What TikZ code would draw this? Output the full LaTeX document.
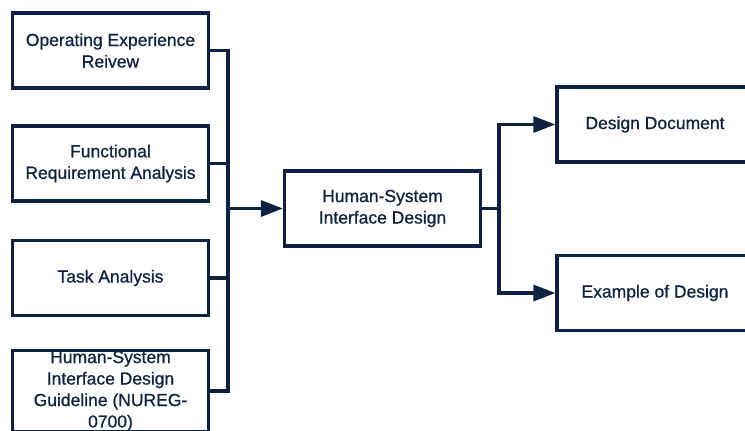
\documentclass[tikz,border=0pt]{standalone}
\usepackage{fontspec}
\setmainfont{Liberation Sans}[FakeBold=0.7]
\usetikzlibrary{arrows.meta}
\definecolor{navy}{RGB}{12,34,64}
\begin{document}
\begin{tikzpicture}[x=1pt,y=-1pt,
  box/.style={draw=navy, line width=3.2pt, minimum width=196pt, minimum height=75pt,
    align=center, text=navy, inner sep=0pt,
    font=\fontsize{17.5}{21.5}\selectfont},
  link/.style={draw=navy, line width=3.2pt},
  arr/.style={link, -{Triangle[length=22pt,width=16pt]}}]
\useasboundingbox (0,0) rectangle (745,431);
\clip (0,0) rectangle (745,431);

% input boxes
\node[box] (b1) at (110.5,50.5) {Operating Experience\\Reivew};
\node[box] (b2) at (110.5,163.5) {Functional\\Requirement Analysis};
\node[box] (b3) at (110.5,278) {Task Analysis};
\node[box] (b4) at (110.5,391) {Human-System\\Interface Design\\Guideline (NUREG-\\0700)};

% central box
\node[box] (hsi) at (382.5,208.5) {Human-System\\Interface Design};

% output boxes
\node[box] (r1) at (655,124.5) {Design Document};
\node[box] (r2) at (655,293) {Example of Design};

% collecting bus
\coordinate (bt) at (228,50.5);
\coordinate (bb) at (228,391);
\draw[link] (b1.east) -| (bb) -- (b4.east);
\draw[link] (b2.east) -- (b2.east -| bt);
\draw[link] (b3.east) -- (b3.east -| bt);
\draw[arr] (hsi.west -| bt) -- (hsi.west);

% distribution to outputs
\coordinate (br) at (499,208.5);
\draw[link] (hsi.east) -- (br);
\draw[arr] (br) |- (r1.west);
\draw[arr] (br) |- (r2.west);
\end{tikzpicture}
\end{document}
